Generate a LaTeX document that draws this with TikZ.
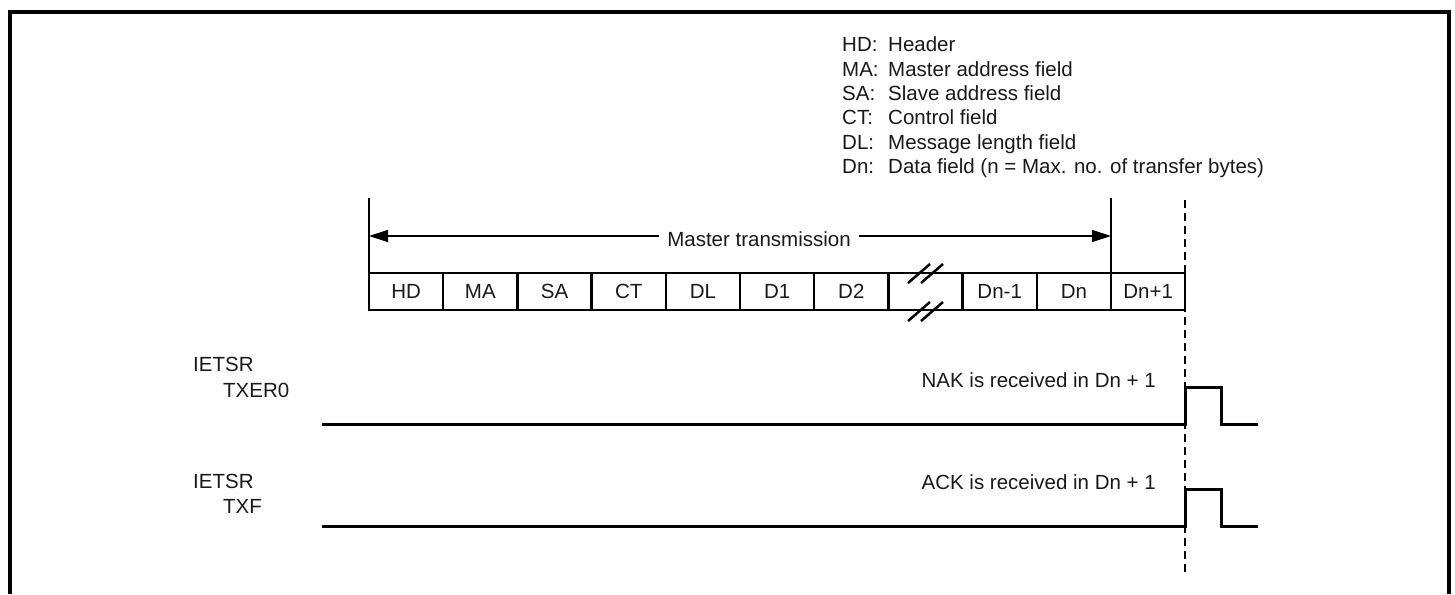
\documentclass[tikz,border=0pt]{standalone}
\usepackage{fontspec}
\setmainfont{Liberation Sans}
\usetikzlibrary{arrows.meta}
\begin{document}
\begin{tikzpicture}[x=1pt,y=-1pt,
  every node/.style={font=\fontsize{20.5}{24}\selectfont, inner sep=0pt, text=black!90},
  field/.style={draw, line width=2.5pt, minimum width=74.2pt, minimum height=37pt,
                anchor=north west, inner sep=0pt, outer sep=0pt},
  thinline/.style={line width=1.2pt},
  wave/.style={line width=3pt, line join=miter},
  arr/.style={-{Triangle[length=19pt,width=12pt]}, line width=1.2pt},
  guide/.style={line width=1.5pt, dash pattern=on 8pt off 5pt},
  frameline/.style={line width=4pt},
  slash/.style={line width=2.5pt}
]
\useasboundingbox (0,0) rectangle (1455,594);
% frame (open at the bottom)
\draw[frameline] (9.5,594) -- (9.5,12) -- (1449,12) -- (1449,594);

% legend
\foreach \a/\b [count=\k from 0] in {HD:/Header, MA:/Master address field, SA:/Slave address field, CT:/Control field, DL:/Message length field, Dn:/Data field (n = Max. no. of transfer bytes)}{
  \node[anchor=base west] (la\k) at (842,{52+24.25*\k}) {\a};
  \node[anchor=base west] (lb\k) at (888,{52+24.25*\k}) {\b};
}

% frame fields
\foreach \t [count=\i from 0] in {HD,MA,SA,CT,DL,D1,D2,{},Dn-1,Dn,Dn+1}{
  \node[field] (f\i) at ({369+74.2*\i},273) {\t};
}
% break marks
\draw[slash] (908,283) -- (930,264);
\draw[slash] (921,283) -- (943,264);
\draw[slash] (908,321) -- (930,302);
\draw[slash] (921,321) -- (943,302);

% master transmission arrow
\draw[thinline] (f0.north west) -- ++(0,-75) coordinate (vl);
\draw[thinline] (f10.north west) -- ++(0,-75) coordinate (vr);
\coordinate (aL) at (369,236);
\coordinate (aR) at (1111,236);
\node[anchor=base, inner xsep=8pt] (mt) at (759,246) {Master transmission};
\draw[arr] (mt.west |- aL) -- (aL);
\draw[arr] (mt.east |- aR) -- (aR);

% dashed guide
\coordinate (gt) at (1185,200);
\coordinate (gb) at (1185,575);
\draw[guide] (gt) -- (gb);

% signal labels
\node[anchor=base west] (s1a) at (193,371) {IETSR};
\node[anchor=base west] (s1b) at (223,397) {TXER0};
\node[anchor=base west] (s2a) at (193,488) {IETSR};
\node[anchor=base west] (s2b) at (223,513) {TXF};

\node[anchor=base east] (nak) at (1156,387) {NAK is received in Dn + 1};
\node[anchor=base east] (ack) at (1156,489) {ACK is received in Dn + 1};

% waveforms
\coordinate (w1s) at (322,424);
\coordinate (w1e) at (1258,424);
\draw[wave] (w1s) -- (1185,424) -- (1185,387) -- (1221,387) -- (1221,424) -- (w1e);
\coordinate (w2s) at (322,526);
\coordinate (w2e) at (1258,526);
\draw[wave] (w2s) -- (1185,526) -- (1185,489) -- (1221,489) -- (1221,526) -- (w2e);
\end{tikzpicture}
\end{document}
